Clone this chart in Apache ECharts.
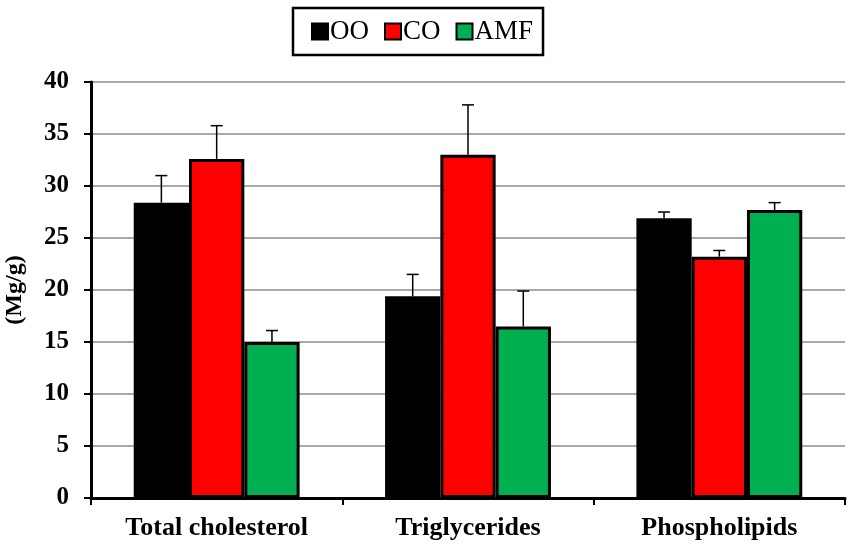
<!DOCTYPE html>
<html>
<head>
<meta charset="utf-8">
<script src="https://cdn.jsdelivr.net/npm/echarts@6/dist/echarts.min.js"></script>
<style>
  html, body { margin: 0; padding: 0; background: #fff; }
  #chart { width: 851px; height: 551px; }
</style>
</head>
<body>
<div id="chart"></div>
<script>
var categories = ['Total cholesterol', 'Triglycerides', 'Phospholipids'];
var seriesNames = ['OO', 'CO', 'AMF'];
var colors = ['#000000', '#ff0000', '#00b050'];
var ooValues = [28.4, 19.4, 26.9];
var coValues = [32.6, 33.0, 23.2];
var amfValues = [15.0, 16.5, 27.7];
var ooErr = [2.6, 2.1, 0.6];
var coErr = [3.2, 4.8, 0.6];
var amfErr = [1.1, 3.4, 0.7];

var values = [ooValues, coValues, amfValues];
var errors = [ooErr, coErr, amfErr];
var catGap = 0.34;

var series = [];
values.forEach(function (vals, i) {
    series.push({
        name: seriesNames[i],
        type: 'bar',
        barGap: 0,
        barCategoryGap: '34%',
        itemStyle: { color: colors[i], borderColor: '#000', borderWidth: 3 },
        data: vals
    });
});
// upper error bars only
values.forEach(function (vals, i) {
    series.push({
        type: 'custom',
        name: 'err' + i,
        z: 1,
        renderItem: function (params, api) {
            var idx = api.value(0);
            var top = api.coord([idx, api.value(1) + api.value(2)]);
            var base = api.coord([idx, api.value(1)]);
            var band = api.size([1, 0])[0];
            var bw = band * (1 - catGap) / 3;
            var x = base[0] + (i - 1) * bw;
            var cap = 6;
            return {
                type: 'group',
                children: [
                    { type: 'line', shape: { x1: x, y1: base[1], x2: x, y2: top[1] }, style: { stroke: '#000', lineWidth: 1.5 } },
                    { type: 'line', shape: { x1: x - cap, y1: top[1], x2: x + cap, y2: top[1] }, style: { stroke: '#000', lineWidth: 1.5 } }
                ]
            };
        },
        encode: { x: 0, y: 1 },
        data: vals.map(function (v, k) { return [k, v, errors[i][k]]; })
    });
});

var myChart = echarts.init(document.getElementById('chart'));
myChart.setOption({
    animation: false,
    backgroundColor: '#fff',
    legend: {
        data: seriesNames,
        top: 8,
        left: 293,
        icon: 'rect',
        itemWidth: 16,
        itemHeight: 16,
        itemGap: 15,
        padding: [10, 10, 10, 18],
        borderColor: '#000',
        borderWidth: 2.5,
        textStyle: { fontFamily: 'Liberation Serif', fontSize: 27, color: '#000', padding: [2, 0, 0, -3] }
    },
    grid: { left: 91, right: 6, top: 82, bottom: 53, outerBoundsMode: 'none', containLabel: false },
    xAxis: {
        type: 'category',
        data: categories,
        axisLine: { lineStyle: { color: '#000', width: 3 } },
        axisTick: { show: true, length: 7, lineStyle: { color: '#000', width: 2 } },
        axisLabel: { fontFamily: 'Liberation Serif', fontWeight: 'bold', fontSize: 26, color: '#000', margin: 17 }
    },
    yAxis: {
        type: 'value',
        min: 0,
        max: 40,
        interval: 5,
        name: '(Mg/g)',
        nameLocation: 'middle',
        nameGap: 64,
        nameTextStyle: { fontFamily: 'Liberation Serif', fontWeight: 'bold', fontSize: 24, color: '#000' },
        axisLine: { show: true, lineStyle: { color: '#000', width: 3 } },
        axisTick: { show: true, length: 7, lineStyle: { color: '#000', width: 2 } },
        axisLabel: { fontFamily: 'Liberation Serif', fontWeight: 'bold', fontSize: 25, color: '#000', margin: 22 },
        splitLine: { lineStyle: { color: '#8c8c8c', width: 1.5 } }
    },
    series: series
});
</script>
</body>
</html>
